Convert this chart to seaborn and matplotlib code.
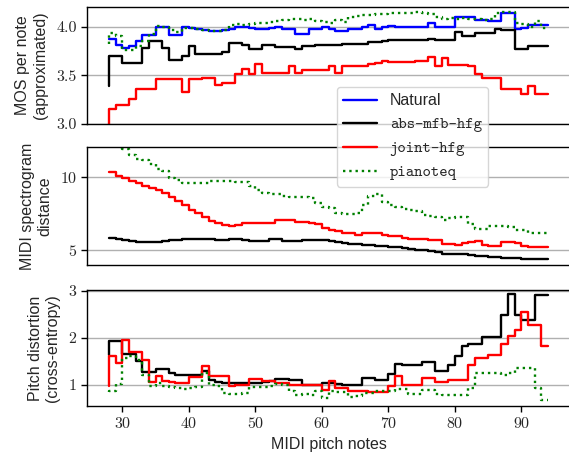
import numpy as np
import pandas as pd
import matplotlib
matplotlib.use("Agg")
import matplotlib.pyplot as plt
import seaborn as sns

# MIDI pitch notes on the x axis
notes = list(range(28, 95))

# MOS per note (approximated)
mos_natural = [3.87, 3.87, 3.81, 3.78, 3.80, 3.85, 3.91, 3.91, 4.00, 4.00,
               3.91, 3.91, 3.99, 3.98, 3.97, 3.96, 3.95, 3.95, 3.96, 3.97,
               3.99, 4.00, 3.98, 3.97, 3.97, 3.98, 3.99, 3.97, 3.97, 3.92,
               3.92, 3.97, 3.97, 3.99, 3.97, 3.95, 3.95, 3.97, 3.97, 3.99,
               4.02, 3.97, 4.00, 4.01, 4.00, 4.00, 4.00, 4.00, 4.00, 4.04,
               4.00, 4.00, 4.00, 4.10, 4.10, 4.10, 4.07, 4.07, 4.06, 4.06,
               4.14, 4.14, 3.97, 3.98, 4.02, 4.02, 4.02]
mos_abs = [3.39, 3.70, 3.70, 3.63, 3.63, 3.63, 3.78, 3.85, 3.85, 3.78,
           3.66, 3.66, 3.70, 3.80, 3.72, 3.72, 3.72, 3.72, 3.74, 3.83,
           3.83, 3.81, 3.77, 3.77, 3.81, 3.81, 3.79, 3.79, 3.79, 3.77,
           3.80, 3.80, 3.81, 3.81, 3.81, 3.81, 3.82, 3.82, 3.82, 3.82,
           3.84, 3.84, 3.85, 3.86, 3.86, 3.86, 3.86, 3.86, 3.86, 3.87,
           3.86, 3.86, 3.86, 3.94, 3.90, 3.90, 3.93, 3.93, 3.93, 3.97,
           3.96, 3.96, 3.77, 3.77, 3.80, 3.80, 3.80]
mos_joint = [3.00, 3.15, 3.20, 3.20, 3.26, 3.36, 3.36, 3.36, 3.46, 3.46,
             3.46, 3.46, 3.33, 3.46, 3.46, 3.47, 3.47, 3.40, 3.42, 3.42,
             3.51, 3.56, 3.51, 3.62, 3.52, 3.52, 3.52, 3.52, 3.59, 3.52,
             3.55, 3.55, 3.55, 3.55, 3.59, 3.52, 3.59, 3.59, 3.59, 3.60,
             3.62, 3.63, 3.65, 3.64, 3.64, 3.64, 3.64, 3.65, 3.65, 3.69,
             3.60, 3.68, 3.61, 3.61, 3.61, 3.60, 3.51, 3.47, 3.47, 3.47,
             3.36, 3.36, 3.36, 3.31, 3.39, 3.31, 3.31]
mos_pianoteq = [3.82, 3.93, 3.90, 3.76, 3.76, 3.80, 3.85, 3.92, 4.01, 4.00,
                3.96, 3.94, 3.98, 3.98, 3.97, 3.96, 3.95, 3.95, 3.96, 4.02,
                4.03, 4.02, 4.03, 4.04, 4.04, 4.05, 4.06, 4.07, 4.08, 4.08,
                4.07, 4.08, 4.06, 4.05, 4.04, 4.07, 4.05, 4.10, 4.11, 4.12,
                4.12, 4.13, 4.13, 4.14, 4.14, 4.14, 4.14, 4.15, 4.14, 4.13,
                4.10, 4.08, 4.09, 4.08, 4.09, 4.08, 4.08, 4.07, 4.08, 4.14,
                4.15, 4.15, 4.04, 4.03, 4.00, 4.06, 3.98]

# MIDI spectrogram distance
spec_abs = [5.84, 5.84, 5.78, 5.72, 5.65, 5.58, 5.55, 5.55, 5.57, 5.62,
            5.68, 5.74, 5.78, 5.80, 5.80, 5.80, 5.78, 5.70, 5.68, 5.75,
            5.75, 5.74, 5.66, 5.62, 5.65, 5.76, 5.75, 5.65, 5.61, 5.63,
            5.74, 5.73, 5.72, 5.70, 5.62, 5.60, 5.50, 5.45, 5.42, 5.38,
            5.36, 5.33, 5.30, 5.25, 5.20, 5.18, 5.12, 5.05, 5.00, 4.95,
            4.90, 4.78, 4.75, 4.75, 4.72, 4.65, 4.62, 4.60, 4.55, 4.52,
            4.50, 4.48, 4.46, 4.44, 4.40, 4.38, 4.38]
spec_joint = [10.34, 10.34, 10.11, 9.93, 9.75, 9.59, 9.43, 9.30, 9.14, 8.91,
              8.68, 8.39, 8.11, 7.77, 7.55, 7.25, 7.02, 6.86, 6.75, 6.70,
              6.75, 6.84, 6.84, 6.84, 6.84, 6.84, 7.07, 7.07, 7.05, 6.93,
              6.93, 6.89, 6.80, 6.50, 6.40, 6.34, 6.20, 6.18, 6.07, 6.18,
              6.18, 6.18, 6.07, 5.98, 5.95, 5.85, 5.80, 5.80, 5.75, 5.73,
              5.73, 5.45, 5.45, 5.39, 5.50, 5.58, 5.61, 5.39, 5.32, 5.32,
              5.55, 5.55, 5.52, 5.27, 5.20, 5.20, 5.20]
spec_pianoteq = [12.8, 12.5, 12.2, 11.9, 11.52, 11.25, 11.15, 10.89, 10.55, 10.45,
                 9.93, 9.82, 9.64, 9.60, 9.60, 9.64, 9.75, 9.75, 9.72, 9.72,
                 9.70, 9.70, 9.43, 9.14, 8.90, 8.84, 8.84, 8.70, 8.64, 8.64,
                 8.64, 8.60, 8.23, 7.95, 7.90, 7.55, 7.48, 7.48, 7.55, 8.10,
                 8.70, 8.86, 8.30, 8.10, 7.95, 7.85, 7.75, 7.70, 7.45, 7.35,
                 7.25, 7.10, 7.22, 7.25, 7.25, 6.80, 6.45, 6.45, 6.65, 6.68,
                 6.65, 6.60, 6.40, 6.38, 6.18, 6.18, 6.18]

# Pitch distortion (cross-entropy)
pitch_abs = [1.64, 1.94, 1.94, 1.66, 1.66, 1.50, 1.28, 1.28, 1.34, 1.34,
             1.25, 1.21, 1.20, 1.20, 1.20, 1.30, 1.10, 1.06, 1.04, 1.04,
             1.04, 1.04, 1.05, 1.05, 1.06, 1.09, 1.12, 1.12, 1.10, 1.10,
             1.00, 1.00, 0.99, 1.03, 1.03, 1.02, 1.00, 0.99, 0.99, 1.15,
             1.15, 1.11, 1.11, 1.23, 1.44, 1.42, 1.42, 1.42, 1.48, 1.48,
             1.29, 1.29, 1.43, 1.62, 1.82, 1.87, 1.87, 2.02, 2.02, 2.02,
             2.48, 2.94, 2.48, 2.38, 2.38, 2.92, 2.92]
pitch_joint = [0.98, 1.61, 1.47, 1.96, 1.70, 1.70, 1.54, 1.06, 1.18, 1.08,
               1.06, 1.04, 1.04, 1.16, 1.16, 1.40, 1.18, 1.18, 1.18, 0.97,
               0.99, 0.99, 1.13, 1.13, 1.09, 1.09, 1.04, 1.04, 0.99, 0.99,
               0.99, 0.99, 0.99, 0.90, 1.08, 0.94, 0.94, 0.88, 0.88, 0.88,
               0.85, 0.85, 0.85, 0.97, 1.18, 0.99, 0.99, 0.99, 1.15, 1.15,
               1.06, 1.06, 1.11, 1.11, 1.11, 1.42, 1.57, 1.57, 1.63, 1.63,
               1.86, 2.04, 2.16, 2.56, 2.28, 2.28, 1.82]
pitch_pianoteq = [0.84, 0.86, 1.02, 1.58, 1.61, 1.54, 1.22, 0.97, 1.04, 0.97,
                  0.96, 0.94, 0.92, 0.94, 0.96, 1.26, 0.99, 0.98, 0.82, 0.80,
                  0.80, 0.82, 0.96, 0.96, 0.96, 0.97, 1.02, 1.00, 0.87, 0.78,
                  0.80, 0.78, 0.87, 0.72, 0.88, 0.84, 0.84, 0.74, 0.76, 0.83,
                  0.83, 0.87, 0.87, 0.87, 0.92, 0.92, 0.81, 0.81, 0.90, 0.90,
                  0.81, 0.78, 0.78, 0.78, 0.78, 0.94, 1.26, 1.26, 1.26, 1.26,
                  1.21, 1.26, 1.35, 1.35, 1.35, 0.94, 0.67]

styles = {
    'Natural': dict(color='#0000ff', linestyle='-'),
    'abs-mfb-hfg': dict(color='black', linestyle='-'),
    'joint-hfg': dict(color='#ff0000', linestyle='-'),
    'pianoteq': dict(color='#008000', linestyle=':'),
}

panels = [
    ('MOS per note\n(approximated)',
     {'Natural': mos_natural, 'abs-mfb-hfg': mos_abs,
      'joint-hfg': mos_joint, 'pianoteq': mos_pianoteq},
     (3.0, 4.2), [3.0, 3.5, 4.0], ['3.0', '3.5', '4.0']),
    ('MIDI spectrogram\ndistance',
     {'abs-mfb-hfg': spec_abs, 'joint-hfg': spec_joint,
      'pianoteq': spec_pianoteq},
     (4.0, 12.07), [5, 10], ['5', '10']),
    ('Pitch distortion\n(cross-entropy)',
     {'abs-mfb-hfg': pitch_abs, 'joint-hfg': pitch_joint,
      'pianoteq': pitch_pianoteq},
     (0.55, 3.02), [1, 2, 3], ['1', '2', '3']),
]

sns.set_theme(style="white")
plt.rcParams['font.family'] = ['cmr10', 'DejaVu Serif']
plt.rcParams['axes.formatter.use_mathtext'] = True
plt.rcParams['axes.edgecolor'] = 'black'
plt.rcParams['axes.linewidth'] = 1.0
sans = 'Liberation Sans'

fig = plt.figure(figsize=(5.69, 4.57), dpi=100)
W, H = 569, 457
boxes = [(7, 124), (147, 265), (290, 406)]
axes = []
for top, bottom in boxes:
    ax = fig.add_axes([87 / W, 1 - bottom / H, (570 - 87) / W, (bottom - top) / H])
    axes.append(ax)

for i, (ax, (ylabel, series, ylim, yticks, yticklabels)) in enumerate(zip(axes, panels)):
    for name, vals in series.items():
        df = pd.DataFrame({'note': notes, 'value': vals})
        sns.lineplot(data=df, x='note', y='value', ax=ax, label=name,
                     drawstyle='steps-pre', linewidth=1.7, legend=False,
                     **styles[name])
    ax.set_xlim(24.7, 97.3)
    ax.set_ylim(*ylim)
    ax.set_yticks(yticks)
    ax.set_yticklabels(yticklabels)
    ax.yaxis.grid(True, color='#b0b0b0', linewidth=1.0)
    ax.xaxis.grid(False)
    ax.set_axisbelow(True)
    ax.tick_params(axis='both', labelsize=11.5, length=4, width=1, color='black',
                   left=True, bottom=(i == 2), labelbottom=(i == 2))
    ax.set_ylabel(ylabel, fontfamily=sans, fontsize=11.5, labelpad=6)
    if i == 2:
        ax.set_xticks([30, 40, 50, 60, 70, 80, 90])
        ax.set_xlabel('MIDI pitch notes', fontfamily=sans, fontsize=11.5)
    else:
        ax.set_xlabel('')

handles, labels = axes[0].get_legend_handles_labels()
leg = fig.legend(handles, labels, loc='upper left',
                 bbox_to_anchor=(337 / W, 1 - 87 / H), borderaxespad=0,
                 fontsize=11.5, frameon=True, framealpha=0.8,
                 edgecolor='#cccccc', fancybox=True, handlelength=2.1,
                 labelspacing=0.55)
for t in leg.get_texts():
    t.set_fontfamily(sans if t.get_text() == 'Natural' else 'cmtt10')

fig.savefig('out.png', dpi=100)
